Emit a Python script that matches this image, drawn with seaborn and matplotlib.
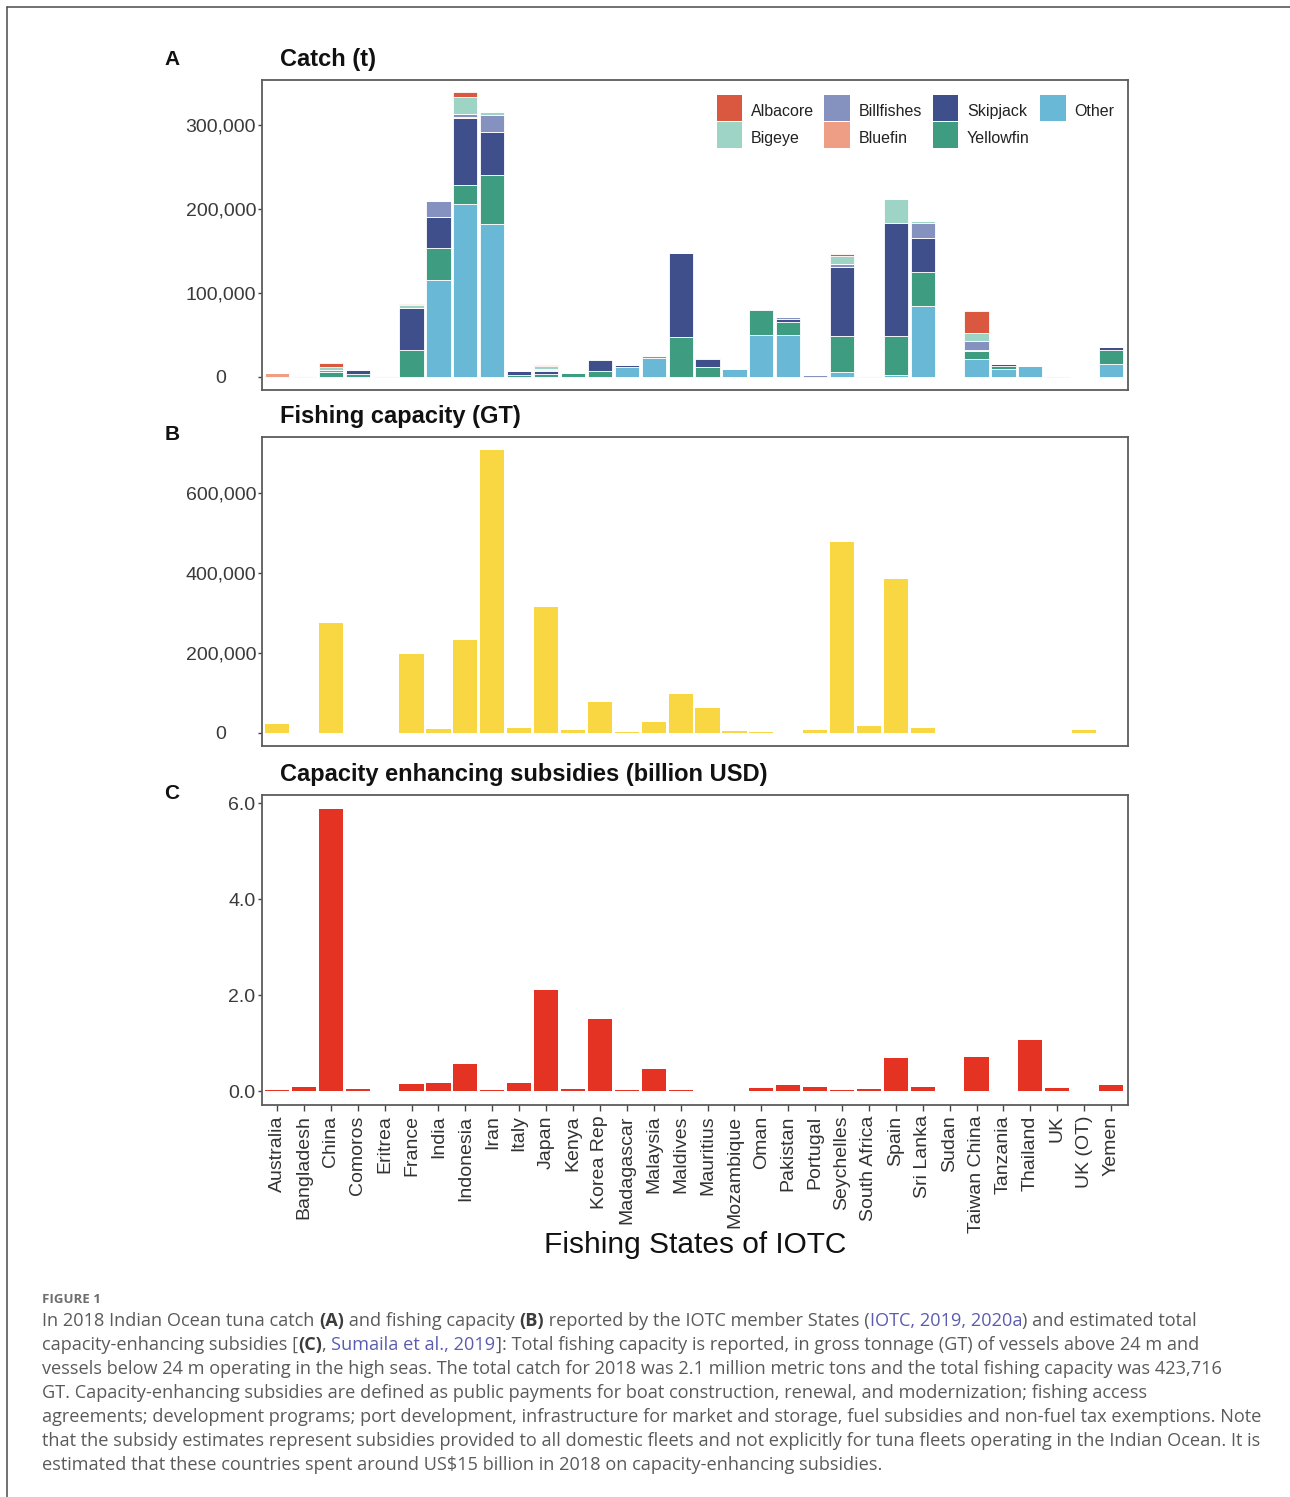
import matplotlib
matplotlib.use("Agg")
import numpy as np
import pandas as pd
import matplotlib.pyplot as plt
from matplotlib.patches import Patch, Rectangle
from matplotlib.lines import Line2D
from matplotlib.legend_handler import HandlerPatch
from matplotlib.ticker import FuncFormatter
import seaborn as sns

# ---------------------------------------------------------------- data
countries = ["Australia", "Bangladesh", "China", "Comoros", "Eritrea", "France",
             "India", "Indonesia", "Iran", "Italy", "Japan", "Kenya", "Korea Rep",
             "Madagascar", "Malaysia", "Maldives", "Mauritius", "Mozambique", "Oman",
             "Pakistan", "Portugal", "Seychelles", "South Africa", "Spain", "Sri Lanka",
             "Sudan", "Taiwan China", "Tanzania", "Thailand", "UK", "UK (OT)", "Yemen"]

# catch by species, tonnes (2018)
albacore   = [0, 0, 5000, 0, 0, 1000, 0, 6000, 0, 0, 1500, 0, 0, 0, 1000, 0,
              0, 0, 0, 0, 0, 1500, 0, 0, 0, 0, 26000, 0, 0, 0, 0, 0]
bigeye     = [0, 0, 3500, 0, 0, 4000, 0, 20000, 3500, 0, 3000, 0, 0, 0, 0, 0,
              0, 0, 0, 0, 0, 10000, 0, 28000, 3000, 0, 10000, 0, 0, 0, 0, 0]
billfishes = [0, 0, 2500, 0, 0, 0, 19000, 4000, 20000, 0, 1500, 0, 2000, 0, 1500, 0,
              2000, 0, 1500, 2000, 2000, 4000, 0, 0, 18000, 0, 10000, 0, 0, 1000, 0, 0]
bluefin    = [5000, 0, 0, 0, 0, 0, 0, 1000, 0, 0, 1500, 0, 0, 0, 0, 0,
              0, 0, 0, 0, 0, 0, 0, 0, 0, 0, 1500, 0, 0, 0, 0, 0]
skipjack   = [0, 0, 0, 5000, 0, 50000, 37000, 80000, 50500, 5000, 3000, 0, 13000, 2000, 0, 100000,
              9000, 0, 0, 3500, 0, 82000, 0, 135000, 40000, 0, 0, 3000, 0, 0, 0, 3000]
yellowfin  = [0, 0, 6000, 3000, 0, 32000, 37000, 22000, 59000, 2000, 4000, 5000, 7000, 0, 0, 48000,
              12000, 0, 30000, 16000, 0, 42500, 0, 46500, 40000, 0, 10000, 3000, 0, 0, 0, 17500]
other      = [0, 1000, 0, 0, 1000, 0, 116000, 206000, 182000, 0, 0, 0, 0, 12000, 23000, 0,
              0, 9000, 50000, 50000, 0, 6000, 1500, 2000, 85000, 0, 21000, 10000, 13000, 0, 0, 15000]

# fishing capacity, gross tonnage
capacity_gt = [23000, 0, 275000, 0, 0, 196000, 9000, 232000, 707000, 13000, 315000, 8000,
               77500, 1000, 27000, 96000, 61000, 4000, 3000, 0, 7000, 477000, 16000,
               385000, 13000, 0, 0, 0, 0, 0, 7000, 0]

# capacity-enhancing subsidies, billion USD
subsidies_busd = [0.02, 0.08, 5.88, 0.05, 0.01, 0.14, 0.17, 0.56, 0.03, 0.17, 2.10, 0.05,
                  1.50, 0.03, 0.46, 0.03, 0.0, 0.01, 0.06, 0.12, 0.08, 0.02, 0.05, 0.68,
                  0.08, 0.0, 0.70, 0.0, 1.06, 0.07, 0.0, 0.12]

species = ["Albacore", "Bigeye", "Billfishes", "Bluefin", "Skipjack", "Yellowfin", "Other"]
species_colors = {
    "Albacore": "#DA5740",
    "Bigeye": "#9DD4C6",
    "Billfishes": "#8592BF",
    "Bluefin": "#EE9E84",
    "Skipjack": "#3E4F8B",
    "Yellowfin": "#3E9C80",
    "Other": "#69B8D6",
}
capacity_color = "#F8D743"
subsidy_color = "#E53323"

catch = pd.DataFrame({
    "country": countries,
    "Albacore": albacore, "Bigeye": bigeye, "Billfishes": billfishes,
    "Bluefin": bluefin, "Skipjack": skipjack, "Yellowfin": yellowfin, "Other": other,
}).melt(id_vars="country", var_name="species", value_name="catch")

# ---------------------------------------------------------------- style
sns.set_theme(style="ticks")
plt.rcParams["font.family"] = ["Liberation Sans", "DejaVu Sans"]

W, H = 1290, 1497
fig = plt.figure(figsize=(W / 100, H / 100), dpi=100)
fig.patch.set_facecolor("white")


def px_axes(left, top, right, bottom):
    return fig.add_axes([left / W, 1 - bottom / H, (right - left) / W, (bottom - top) / H])


axA = px_axes(262, 80, 1128, 390)
axB = px_axes(262, 437, 1128, 746)
axC = px_axes(262, 795, 1128, 1105)

# A: stacked catch by species
sns.histplot(data=catch, x="country", hue="species", weights="catch",
             hue_order=species, palette=species_colors, multiple="stack",
             discrete=True, shrink=0.9, alpha=1, edgecolor="white", linewidth=0.6,
             legend=False, ax=axA)

# B: fishing capacity
sns.barplot(x=countries, y=capacity_gt, color=capacity_color, saturation=1,
            width=0.9, linewidth=0, errorbar=None, ax=axB)

# C: subsidies
sns.barplot(x=countries, y=subsidies_busd, color=subsidy_color, saturation=1,
            width=0.9, linewidth=0, errorbar=None, ax=axC)

comma = FuncFormatter(lambda v, p: f"{v:,.0f}")
onedec = FuncFormatter(lambda v, p: f"{v:.1f}")


def style_axis(ax, ylim, yticks, fmt, pad_pt):
    ax.set_xlim(-0.56, 31.63)
    ax.set_ylim(*ylim)
    ax.set_yticks(yticks)
    ax.yaxis.set_major_formatter(fmt)
    ax.set_xlabel("")
    ax.set_ylabel("")
    ax.grid(False)
    for s in ax.spines.values():
        s.set_visible(True)
        s.set_color("#5c5c5c")
        s.set_linewidth(1.3)
    ax.tick_params(axis="y", left=True, direction="out", length=3, width=1,
                   color="#444444", labelsize=14, labelcolor="#3a3a3a", pad=pad_pt)
    for lbl in ax.get_yticklabels():
        lbl.set_horizontalalignment("center")


style_axis(axA, (-15500, 353600), [0, 100000, 200000, 300000], comma, 26.6)
style_axis(axB, (-33000, 740000), [0, 200000, 400000, 600000], comma, 26.6)
style_axis(axC, (-0.29, 6.17), [0, 2, 4, 6], onedec, 11.5)

for ax in (axA, axB):
    ax.tick_params(axis="x", bottom=False, labelbottom=False)

axC.set_xticks(range(len(countries)))
axC.set_xticklabels(countries, rotation=90)
axC.tick_params(axis="x", bottom=True, direction="out", length=4.5, width=1,
                color="#444444", labelsize=14, labelcolor="#333333", pad=3)

# panel titles and letters
titles = [(axA, "Catch (t)"), (axB, "Fishing capacity (GT)"),
          (axC, "Capacity enhancing subsidies (billion USD)")]
for ax, t in titles:
    ax.text(0.021, 1 + 14 / 310, t, transform=ax.transAxes, fontsize=17,
            fontweight="bold", ha="left", va="baseline", color="#111111")

for letter, yb in [("A", 65), ("B", 440), ("C", 799)]:
    fig.text(172 / W, 1 - yb / H, letter, fontsize=15, fontweight="bold",
             ha="center", va="baseline", color="#111111")


# legend: square swatches filling the whole handle box
def full_box(legend, orig_handle, xdescent, ydescent, width, height, fontsize):
    return Rectangle((-xdescent, -ydescent), width, height + ydescent)


handles = [Patch(facecolor=species_colors[s], edgecolor="none", label=s) for s in species]
leg = axA.legend(handles=handles, ncol=4, loc="upper left", bbox_to_anchor=(0.525, 0.935),
                 frameon=False, fontsize=11.5, handlelength=1.6, handleheight=1.6,
                 handletextpad=0.55, columnspacing=0.65, labelspacing=0.4,
                 borderpad=0, borderaxespad=0,
                 handler_map={Patch: HandlerPatch(patch_func=full_box)})
for txt in leg.get_texts():
    txt.set_color("#222222")

fig.text(695 / W, 1 - 1245 / H, "Fishing States of IOTC", fontsize=21.5,
         ha="center", va="center", color="#111111")

# outer frame (top and left rules)
fig.add_artist(Line2D([7 / W, 1], [1 - 7 / H, 1 - 7 / H], transform=fig.transFigure,
                      color="#4a4a4a", lw=1.1))
fig.add_artist(Line2D([7 / W, 7 / W], [0, 1 - 7 / H], transform=fig.transFigure,
                      color="#4a4a4a", lw=1.1))

# ---------------------------------------------------------------- caption
cap_font = ["Open Sans", "DejaVu Sans"]
plain = dict(color="#5a5a5a", fontweight="normal")
bold = dict(color="#3c3c3c", fontweight="bold")
link = dict(color="#5b5cae", fontweight="normal")

caption_lines = [
    [("In 2018 Indian Ocean tuna catch ", plain), ("(A)", bold),
     (" and fishing capacity ", plain), ("(B)", bold),
     (" reported by the IOTC member States (", plain), ("IOTC, 2019, 2020a", link),
     (") and estimated total", plain)],
    [("capacity-enhancing subsidies [", plain), ("(C)", bold), (", ", plain),
     ("Sumaila et al., 2019", link),
     ("]: Total fishing capacity is reported, in gross tonnage (GT) of vessels above 24 m and", plain)],
    [("vessels below 24 m operating in the high seas. The total catch for 2018 was 2.1 million metric tons and the total fishing capacity was 423,716", plain)],
    [("GT. Capacity-enhancing subsidies are defined as public payments for boat construction, renewal, and modernization; fishing access", plain)],
    [("agreements; development programs; port development, infrastructure for market and storage, fuel subsidies and non-fuel tax exemptions. Note", plain)],
    [("that the subsidy estimates represent subsidies provided to all domestic fleets and not explicitly for tuna fleets operating in the Indian Ocean. It is", plain)],
    [("estimated that these countries spent around US$15 billion in 2018 on capacity-enhancing subsidies.", plain)],
]

renderer = fig.canvas.get_renderer()


def text_width(s, size, weight):
    t = fig.text(0, 0, s, fontsize=size, fontweight=weight, family=cap_font, parse_math=False)
    w = t.get_window_extent(renderer).width
    t.remove()
    return w


def advance(s, size, weight):
    # width including trailing spaces
    return text_width(s + ".", size, weight) - text_width(".", size, weight)


ref_size = 12.0
longest = caption_lines[4][0][0]
cap_size = ref_size * 1216 / text_width(longest, ref_size, "normal")

fig.text(42 / W, 1 - 1303 / H, "FIGURE 1", fontsize=9.5, fontweight="bold",
         family=cap_font, color="#6e6e6e", ha="left", va="baseline")

for i, parts in enumerate(caption_lines):
    yb = 1326 + 24 * i
    x = 42.0
    for s, st in parts:
        fig.text(x / W, 1 - yb / H, s, fontsize=cap_size, family=cap_font,
                 ha="left", va="baseline", parse_math=False, **st)
        x += advance(s, cap_size, st["fontweight"])

fig.savefig("out.png", dpi=100, facecolor="white")
